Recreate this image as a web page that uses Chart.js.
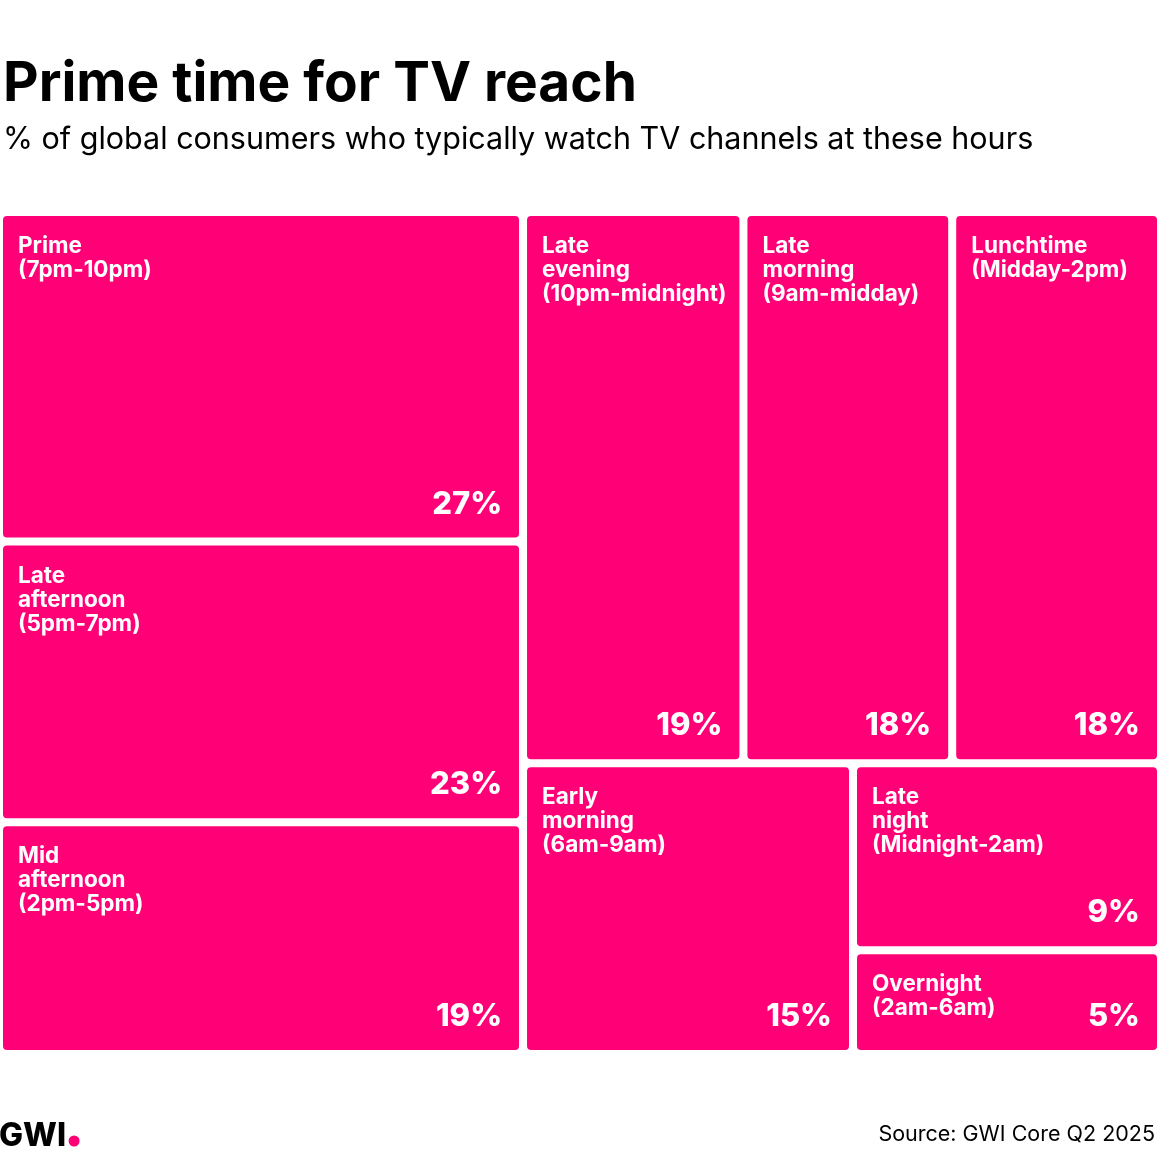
<!DOCTYPE html>
<html>
<head>
<meta charset="utf-8">
<script src="https://cdn.jsdelivr.net/npm/chart.js@4/dist/chart.umd.min.js"></script>
<style>
  html, body { margin: 0; padding: 0; background: #fff; }
  #chart { display: block; }
</style>
</head>
<body>
<canvas id="chart" width="1160" height="1160"></canvas>
<script>
// data
const categories = ['Prime (7pm-10pm)', 'Late afternoon (5pm-7pm)', 'Mid afternoon (2pm-5pm)',
	'Late evening (10pm-midnight)', 'Late morning (9am-midday)', 'Lunchtime (Midday-2pm)',
	'Early morning (6am-9am)', 'Late night (Midnight-2am)', 'Overnight (2am-6am)'];
const shares = [27, 23, 19, 19, 18, 18, 15, 9, 5];

const pink = '#FF0077';
const gap = 8;
const font = 'Inter';

// squarified layout (same idea as d3.treemapSquarify), done in scale values 0..100
// k = how many pixels one x unit is compared to one y unit, so the aspect checks use real shapes
function squarify(values, x0, y0, x1, y1, k, ratio) {
	const out = [];
	let total = values.reduce((a, b) => a + b, 0);
	let i0 = 0, i1 = 0;
	const n = values.length;
	while (i0 < n) {
		const dx = (x1 - x0) * k, dy = y1 - y0;
		let sum = values[i1++];
		let minV = sum, maxV = sum;
		const alpha = Math.max(dy / dx, dx / dy) / (total * ratio);
		let beta = sum * sum * alpha;
		let best = Math.max(maxV / beta, beta / minV);
		for (; i1 < n; ++i1) {
			const v = values[i1];
			sum += v;
			if (v < minV) minV = v;
			if (v > maxV) maxV = v;
			beta = sum * sum * alpha;
			const r = Math.max(maxV / beta, beta / minV);
			if (r > best) { sum -= v; break; }
			best = r;
		}
		if (dx < dy) {
			const h = (y1 - y0) * sum / total;
			let x = x0;
			for (let i = i0; i < i1; i++) {
				const w = (x1 - x0) * values[i] / sum;
				out[i] = [x, y0, x + w, y0 + h];
				x += w;
			}
			y0 += h;
		} else {
			const w = (x1 - x0) * sum / total;
			let y = y0;
			for (let i = i0; i < i1; i++) {
				const h = (y1 - y0) * values[i] / sum;
				out[i] = [x0, y, x0 + w, y + h];
				y += h;
			}
			x0 += w;
		}
		total -= sum;
		i0 = i1;
	}
	return out;
}

const treemapCells = {
	id: 'treemapCells',
	afterDatasetsDraw(chart) {
		const ctx = chart.ctx;
		const xs = chart.scales.x, ys = chart.scales.y;
		const h = gap / 2;
		// scale pixels, stretched by half a gap each side so that outer cells end flush
		const L = xs.getPixelForValue(0), R = xs.getPixelForValue(100);
		const T = ys.getPixelForValue(0), B = ys.getPixelForValue(100);
		const px = v => L - h + (xs.getPixelForValue(v) - L) * (R - L + gap) / (R - L);
		const py = v => T - h + (ys.getPixelForValue(v) - T) * (B - T + gap) / (B - T);
		const k = (R - L + gap) / (B - T + gap);
		const cells = squarify(shares, 0, 0, 100, 100, k, 2);
		ctx.save();
		cells.forEach((c, i) => {
			const left = px(c[0]) + h, right = px(c[2]) - h;
			const top = py(c[1]) + h, bottom = py(c[3]) - h;
			ctx.fillStyle = pink;
			ctx.beginPath();
			ctx.roundRect(left, top, right - left, bottom - top, 4);
			ctx.fill();

			ctx.fillStyle = '#fff';
			ctx.textAlign = 'left';
			ctx.textBaseline = 'alphabetic';
			ctx.font = '700 22.5px ' + font;
			categories[i].split(' ').forEach((w, j) => {
				ctx.fillText(w, left + 15, top + 37 + j * 24);
			});
			ctx.textAlign = 'right';
			ctx.font = '800 31px ' + font;
			ctx.fillText(shares[i] + '%', right - 17, bottom - 24);
		});
		ctx.restore();
	}
};

const footer = {
	id: 'footer',
	afterDraw(chart) {
		const ctx = chart.ctx;
		ctx.save();
		ctx.textBaseline = 'alphabetic';
		ctx.fillStyle = '#000';
		ctx.textAlign = 'left';
		ctx.font = '800 32px ' + font;
		ctx.fillText('GWI', -1, 1146);
		const w = ctx.measureText('GWI').width;
		ctx.fillStyle = pink;
		ctx.beginPath();
		ctx.arc(w + 7, 1141, 5.5, 0, Math.PI * 2);
		ctx.fill();
		ctx.fillStyle = '#000';
		ctx.textAlign = 'right';
		ctx.font = '400 21.5px ' + font;
		ctx.fillText('Source: GWI Core Q2 2025', 1155, 1141);
		ctx.restore();
	}
};

new Chart(document.getElementById('chart'), {
	type: 'scatter',
	data: {
		labels: categories,
		datasets: [{ data: [], label: '% of global consumers' }]
	},
	options: {
		responsive: false,
		animation: false,
		events: [],
		layout: { padding: { left: 3, right: 3, top: 51, bottom: 110 } },
		scales: {
			x: { display: false, min: 0, max: 100 },
			y: { display: false, min: 0, max: 100, reverse: true }
		},
		plugins: {
			legend: { display: false },
			tooltip: { enabled: false },
			title: {
				display: true,
				text: 'Prime time for TV reach',
				align: 'start',
				color: '#000',
				font: { family: font, size: 55, weight: '700' },
				padding: { top: 0, bottom: 4 }
			},
			subtitle: {
				display: true,
				text: '% of global consumers who typically watch TV channels at these hours',
				align: 'start',
				color: '#000',
				font: { family: font, size: 30.5, weight: '400' },
				padding: { top: 1, bottom: 57.5 }
			}
		}
	},
	plugins: [treemapCells, footer]
});
</script>
</body>
</html>
